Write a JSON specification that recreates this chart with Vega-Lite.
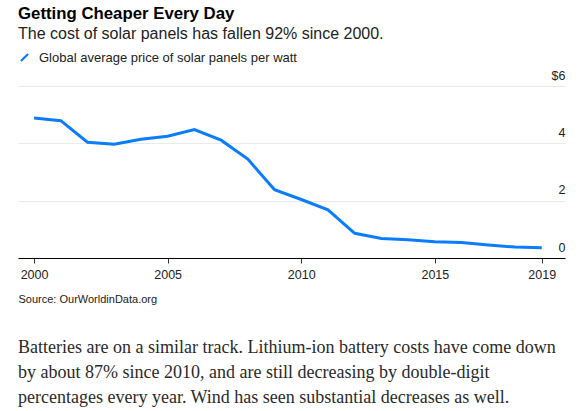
{
  "$schema": "https://vega.github.io/schema/vega-lite/v6.json",
  "padding": {"left": 18, "top": 6, "right": 18, "bottom": 0},
  "autosize": {"type": "pad"},
  "background": "white",
  "title": {
    "text": "Getting Cheaper Every Day",
    "subtitle": "The cost of solar panels has fallen 92% since 2000.",
    "anchor": "start",
    "font": "Liberation Sans",
    "fontSize": 16.8,
    "fontWeight": "bold",
    "color": "#000000",
    "subtitleFont": "Liberation Sans",
    "subtitleFontSize": 16,
    "subtitleColor": "#222222",
    "subtitlePadding": 3,
    "offset": 9
  },
  "config": {
    "view": {"stroke": null},
    "font": "Liberation Sans"
  },
  "spacing": 34,
  "vconcat": [
    {
      "width": 547,
      "height": 172,
      "data": {
        "values": [
          {"year": 2000, "price": 4.88, "series": "Global average price of solar panels per watt"},
          {"year": 2001, "price": 4.79, "series": "Global average price of solar panels per watt"},
          {"year": 2002, "price": 4.04, "series": "Global average price of solar panels per watt"},
          {"year": 2003, "price": 3.97, "series": "Global average price of solar panels per watt"},
          {"year": 2004, "price": 4.14, "series": "Global average price of solar panels per watt"},
          {"year": 2005, "price": 4.25, "series": "Global average price of solar panels per watt"},
          {"year": 2006, "price": 4.48, "series": "Global average price of solar panels per watt"},
          {"year": 2007, "price": 4.11, "series": "Global average price of solar panels per watt"},
          {"year": 2008, "price": 3.45, "series": "Global average price of solar panels per watt"},
          {"year": 2009, "price": 2.38, "series": "Global average price of solar panels per watt"},
          {"year": 2010, "price": 2.04, "series": "Global average price of solar panels per watt"},
          {"year": 2011, "price": 1.68, "series": "Global average price of solar panels per watt"},
          {"year": 2012, "price": 0.86, "series": "Global average price of solar panels per watt"},
          {"year": 2013, "price": 0.68, "series": "Global average price of solar panels per watt"},
          {"year": 2014, "price": 0.64, "series": "Global average price of solar panels per watt"},
          {"year": 2015, "price": 0.57, "series": "Global average price of solar panels per watt"},
          {"year": 2016, "price": 0.54, "series": "Global average price of solar panels per watt"},
          {"year": 2017, "price": 0.45, "series": "Global average price of solar panels per watt"},
          {"year": 2018, "price": 0.38, "series": "Global average price of solar panels per watt"},
          {"year": 2019, "price": 0.36, "series": "Global average price of solar panels per watt"}
        ]
      },
      "mark": {"type": "line", "strokeWidth": 3, "strokeJoin": "miter"},
      "encoding": {
        "x": {
          "field": "year",
          "type": "quantitative",
          "scale": {"domain": [1999.4, 2019.87], "nice": false, "zero": false},
          "axis": {
            "values": [2000, 2005, 2010, 2015, 2019],
            "format": "d",
            "grid": false,
            "domainColor": "#000000",
            "domainWidth": 1,
            "tickColor": "#333333",
            "tickSize": 5,
            "labelFont": "Liberation Sans",
            "labelFontSize": 12.5,
            "labelColor": "#222222",
            "labelPadding": 5,
            "labelFlush": false,
            "title": "Source: OurWorldinData.org",
            "titleFont": "Liberation Sans",
            "titleFontSize": 11,
            "titleFontWeight": "normal",
            "titleColor": "#222222",
            "titleAnchor": "start",
            "titleAlign": "left",
            "titlePadding": 13
          }
        },
        "y": {
          "field": "price",
          "type": "quantitative",
          "scale": {"domain": [0, 6], "nice": false},
          "axis": {
            "orient": "right",
            "values": [0, 2, 4, 6],
            "labelExpr": "datum.value == 6 ? '$6' : datum.label",
            "grid": true,
            "gridColor": "#ebebeb",
            "gridWidth": 1,
            "domain": false,
            "ticks": false,
            "labelAlign": "right",
            "labelBaseline": "alphabetic",
            "labelOffset": -7,
            "labelPadding": 0,
            "labelFont": "Liberation Sans",
            "labelFontSize": 12.5,
            "labelColor": "#222222",
            "title": null
          }
        },
        "color": {
          "field": "series",
          "type": "nominal",
          "scale": {"range": ["#0b7cff"]},
          "legend": {
            "orient": "top",
            "title": null,
            "padding": 0,
            "offset": 3,
            "symbolType": "M-1,1L1,-1",
            "symbolSize": 50,
            "symbolStrokeWidth": 2.2,
            "labelFont": "Liberation Sans",
            "labelFontSize": 13,
            "labelColor": "#222222",
            "labelOffset": 8,
            "labelLimit": 0
          }
        }
      }
    },
    {
      "width": 547,
      "height": 50,
      "data": {
        "values": [
          {"line": 1, "text": "Batteries are on a similar track. Lithium-ion battery costs have come down"},
          {"line": 2, "text": "by about 87% since 2010, and are still decreasing by double-digit"},
          {"line": 3, "text": "percentages every year. Wind has seen substantial decreases as well."}
        ]
      },
      "mark": {
        "type": "text",
        "align": "left",
        "baseline": "alphabetic",
        "font": "Liberation Serif",
        "fontSize": 18,
        "color": "#2a2a2a"
      },
      "encoding": {
        "x": {"value": 0},
        "y": {"field": "line", "type": "ordinal", "axis": null, "scale": {"type": "point", "padding": 0}},
        "text": {"field": "text"}
      }
    }
  ]
}
